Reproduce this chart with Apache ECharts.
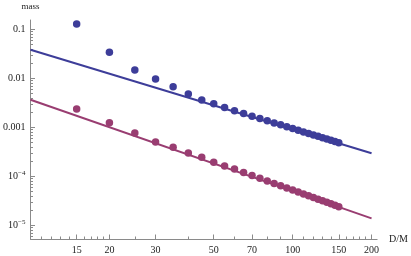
<!DOCTYPE html>
<html><head><meta charset="utf-8">
<script src="https://cdn.jsdelivr.net/npm/echarts@6/dist/echarts.min.js"></script>
<style>html,body{margin:0;padding:0;background:#fff}#c{width:411px;height:256px}</style>
</head><body><div id="c"></div><script>
// D/M values of the sampled points
const dm = [15,20,25,30,35,40,45,50,55,60,65,70,75,80,85,90,95,100,105,110,115,120,125,130,135,140,145,150];
// upper (blue) mass points
const blueMass = [0.129,0.0343,0.0149,0.0098,0.0068,0.0048,0.00363,0.00306,0.00257,0.0022,0.00192,0.0017,0.00152,0.00137,0.00124,0.00113,0.00103,0.00095,0.000876,0.000812,0.000755,0.000704,0.000659,0.000618,0.000581,0.000548,0.000518,0.00049];
// lower (purple) mass points
const purpleMass = [0.00239,0.00125,0.00077,0.000506,0.000394,0.000302,0.000247,0.000195,0.000164,0.000142,0.00012,0.000105,0.000092,0.000081,0.000072,0.0000645,0.000058,0.0000527,0.000048,0.000044,0.0000405,0.0000373,0.0000345,0.000032,0.0000298,0.0000277,0.0000259,0.0000242];
// fitted power-law lines (end points)
const lineX = [10, 200];
const blueLine = [0.0387, 0.000297];
const purpleLine = [0.00369, 0.000014];
// tick labels
const xTickLabels = [15,20,30,50,70,100,150,200];
const xMinorTicks = [11,12,13,14,16,17,18,19,25,40,60,80,90,110,120,130,140,160,170,180,190];
const yTickLabels = [0.1,0.01,0.001,0.0001,0.00001];
const yMinorTicks = [];
for (let e = -6; e <= -2; e++) for (let m = 2; m <= 9; m++) yMinorTicks.push(+(m + 'e' + e));

const BLUE = '#3d3d99', PURPLE = '#993d71';
const FONT = 'Liberation Serif';
const AX = '#8a8a8a';
const xMin = 10, xMax = 210, yMin = 5.3e-6, yMax = 0.156;

function pairs(xs, ys) { return xs.map((x, i) => [x, ys[i]]); }
function yFmt(v) {
  const e = Math.round(Math.log10(v));
  if (e >= -3) return '{b|' + yTickLabels[-e - 1] + '}';
  return '{b|10}{s|\u2212' + (-e) + '}';
}

const chart = echarts.init(document.getElementById('c'), null, {renderer: 'canvas'});
const common = {type: 'log', logBase: 10, splitLine: {show: false}};
chart.setOption({
  animation: false,
  backgroundColor: '#fff',
  grid: {left: 27, right: 31, top: 20, bottom: 17, containLabel: false},
  xAxis: [
    Object.assign({}, common, {
      min: xMin, max: xMax, position: 'bottom',
      name: 'D/M', nameLocation: 'end', nameGap: 12,
      nameTextStyle: {fontFamily: FONT, fontSize: 10, color: '#222', verticalAlign: 'middle'},
      axisLine: {show: true, lineStyle: {color: AX, width: 1}},
      axisTick: {show: true, inside: true, length: 2.5, customValues: xMinorTicks, lineStyle: {color: AX}},
      axisLabel: {show: false}
    }),
    Object.assign({}, common, {
      min: xMin, max: xMax, position: 'bottom',
      axisLine: {show: false},
      axisTick: {show: true, inside: true, length: 4.5, customValues: xTickLabels, lineStyle: {color: AX}},
      axisLabel: {show: true, customValues: xTickLabels, margin: 6, fontFamily: FONT, fontSize: 10, color: '#222',
        formatter: v => String(Math.round(v))}
    })
  ],
  yAxis: [
    Object.assign({}, common, {
      min: yMin, max: yMax, position: 'left',
      name: 'mass', nameLocation: 'end', nameGap: 9,
      nameTextStyle: {fontFamily: FONT, fontSize: 9, color: '#222'},
      axisLine: {show: true, lineStyle: {color: AX, width: 1}},
      axisTick: {show: true, inside: true, length: 2.5, customValues: yMinorTicks, lineStyle: {color: AX}},
      axisLabel: {show: false}
    }),
    Object.assign({}, common, {
      min: yMin, max: yMax, position: 'left',
      axisLine: {show: false},
      axisTick: {show: true, inside: true, length: 4.5, customValues: yTickLabels, lineStyle: {color: AX}},
      axisLabel: {show: true, customValues: yTickLabels, margin: 5, formatter: yFmt,
        rich: {
          b: {fontFamily: FONT, fontSize: 10, color: '#222'},
          s: {fontFamily: FONT, fontSize: 7, color: '#222', padding: [0, 0, 6, 0]}
        }}
    })
  ],
  series: [
    {type: 'line', data: pairs(lineX, blueLine), showSymbol: false, lineStyle: {color: BLUE, width: 2}, z: 2},
    {type: 'line', data: pairs(lineX, purpleLine), showSymbol: false, lineStyle: {color: PURPLE, width: 2}, z: 2},
    {type: 'scatter', data: pairs(dm, blueMass), symbolSize: 7.5, itemStyle: {color: BLUE, opacity: 1}, z: 3},
    {type: 'scatter', data: pairs(dm, purpleMass), symbolSize: 7.5, itemStyle: {color: PURPLE, opacity: 1}, z: 3}
  ]
});
</script></body></html>
